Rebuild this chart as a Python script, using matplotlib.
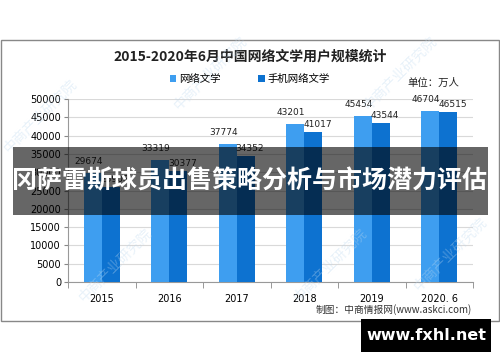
import numpy as np
import matplotlib.pyplot as plt
from matplotlib.patches import Rectangle

plt.rcParams['font.family'] = ['Noto Sans CJK SC', 'DejaVu Sans']

years = ['2015', '2016', '2017', '2018', '2019', '2020. 6']
web_lit = [29674, 33319, 37774, 43201, 45454, 46704]
mobile_lit = [25908, 30377, 34352, 41017, 43544, 46515]
series_names = ['网络文学', '手机网络文学']
y_ticks = [0, 5000, 10000, 15000, 20000, 25000, 30000, 35000, 40000, 45000, 50000]

c_light = '#3e9ef0'
c_dark = '#0d72d0'

fig = plt.figure(figsize=(5, 3.62), dpi=100)
ax = fig.add_axes([0.136, 0.221, 0.81, 0.5055])

x = np.arange(len(years))
w = 0.267
b1 = ax.bar(x - w / 2, web_lit, w, color=c_light, label=series_names[0], zorder=3)
b2 = ax.bar(x + w / 2, mobile_lit, w, color=c_dark, label=series_names[1], zorder=3)
# value labels: light ones nudged left and higher, dark ones nudged right
for xi, v in zip(x - w / 2, web_lit):
    ax.annotate(str(v), (xi, v), xytext=(-3, 5), textcoords='offset points',
                ha='center', va='bottom', fontsize=6.5, color='#222222', family='DejaVu Sans')
for xi, v in zip(x + w / 2, mobile_lit):
    ax.annotate(str(v), (xi, v), xytext=(3, 2), textcoords='offset points',
                ha='center', va='bottom', fontsize=6.5, color='#222222', family='DejaVu Sans')

ax.set_xlim(-0.5, len(years) - 0.5)
ax.set_ylim(0, 50000)
ax.set_yticks(y_ticks)
ax.set_yticklabels([str(v) for v in y_ticks], fontsize=7, family='DejaVu Sans')
ax.yaxis.grid(True, color='#d9d9d9', lw=0.8, zorder=0)
ax.set_xticks(x)
ax.set_xticklabels(years, fontsize=7, family='DejaVu Sans')
ax.tick_params(axis='x', length=0, pad=9)
ax.set_xticks(np.arange(len(years) + 1) - 0.5, minor=True)
ax.tick_params(axis='x', which='minor', length=4, color='#888888')
ax.tick_params(axis='y', length=3, color='#888888', pad=2)
for s in ['top', 'right']:
    ax.spines[s].set_visible(False)
for s in ['left', 'bottom']:
    ax.spines[s].set_color('#999999')

# outer frame
fig.patches.append(Rectangle((0.002, 0.113), 0.996, 0.7765, transform=fig.transFigure,
                             fill=False, edgecolor='#888888', lw=1))

fig.text(0.5, 0.845, '2015-2020年6月中国网络文学用户规模统计', ha='center', va='center',
         fontsize=10, fontweight='bold', color='#222222')
fig.legend(handles=[b1, b2], loc='center', bbox_to_anchor=(0.5, 0.782), ncol=2,
           frameon=False, fontsize=7.5, handlelength=0.6, handleheight=0.6,
           handletextpad=0.3, columnspacing=3.6)
fig.text(0.815, 0.771, '单位：万人', ha='left', va='center', fontsize=7.5, color='#222222')
fig.text(0.944, 0.144, '制图：中商情报网(www.askci.com)', ha='right', va='center',
         fontsize=7, color='#333333')

# watermarks
for wx, wy in [(0.23, 0.27), (0.42, 0.8), (0.8, 0.8), (0.08, 0.68), (0.66, 0.27), (0.9, 0.3)]:
    fig.text(wx, wy, '中商产业研究院', rotation=45, ha='center', va='center',
             fontsize=10, color='#bcd8ef', alpha=0.35, zorder=5)

# overlay banner
fig.patches.append(Rectangle((0.026, 0.406), 0.95, 0.188, transform=fig.transFigure,
                             facecolor='black', alpha=0.6, edgecolor='none', zorder=10))
fig.text(0.5, 0.5, '冈萨雷斯球员出售策略分析与市场潜力评估', ha='center', va='center',
         fontsize=18, fontweight='bold', color='white', zorder=11)

# bottom-right badge
fig.patches.append(Rectangle((0.722, 0.028), 0.26, 0.091, transform=fig.transFigure,
                             facecolor='black', edgecolor='none', zorder=10))
fig.text(0.852, 0.0735, 'www.fxhl.net', ha='center', va='center', fontsize=11.5,
         fontweight='bold', color='white', family='DejaVu Sans', zorder=11)

fig.savefig('out.png', dpi=100)
